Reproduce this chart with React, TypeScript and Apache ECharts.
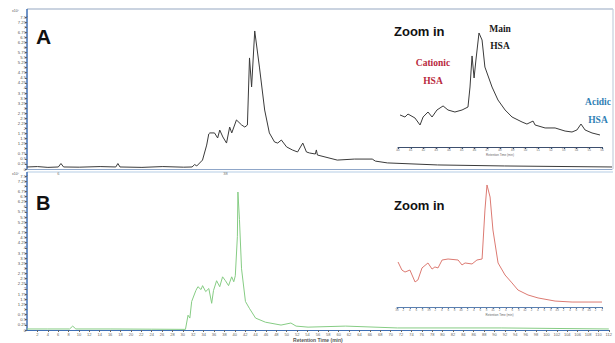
import React, { useEffect, useRef } from "react";
import * as echarts from "echarts";

// ---- Panel A (main chromatogram, x10^7) ----
const timeA = [0, 2, 4, 6, 6.5, 7, 10, 14, 17, 17.4, 17.8, 22, 26, 30, 31.6, 32.1, 32.5, 33.6, 34.4, 34.8, 35.0, 35.9, 36.5, 36.9, 37.5, 38.2, 38.8, 39.2, 40.1, 41.1, 41.7, 42.2, 42.6, 43.0, 43.6, 44.5, 45.5, 46.4, 47.4, 48.0, 48.7, 49.7, 50.8, 51.8, 52.8, 53.5, 54.1, 55.2, 55.4, 55.6, 59.4, 62.7, 66.1, 66.7, 69.0, 78.6, 91.4, 112];
const signalA = [0.1, 0.12, 0.08, 0.1, 0.27, 0.1, 0.09, 0.12, 0.1, 0.27, 0.1, 0.08, 0.12, 0.09, 0.1, 0.22, 0.15, 0.44, 1.18, 1.73, 1.78, 1.78, 1.53, 1.92, 1.58, 1.28, 2.07, 1.78, 2.42, 2.17, 2.07, 2.17, 5.48, 4.05, 6.81, 5.03, 2.91, 1.78, 1.33, 1.28, 1.43, 1.09, 0.94, 0.84, 1.28, 0.84, 0.79, 0.74, 0.94, 0.69, 0.44, 0.49, 0.49, 0.39, 0.3, 0.2, 0.15, 0.1];

// ---- Panel B (main chromatogram, x10^7) ----
const timeB = [0, 4, 8.2, 8.8, 9.4, 16, 24, 30.5, 31.0, 31.35, 31.7, 32.5, 32.9, 33.5, 33.8, 34.4, 35.0, 35.55, 35.9, 36.5, 37.1, 37.65, 38.2, 38.8, 39.4, 39.8, 40.1, 40.5, 40.6, 40.9, 41.3, 42.05, 42.8, 44.0, 45.9, 48.9, 50.8, 51.8, 54.1, 61.35, 71.3, 91.4, 112];
const signalB = [0.05, 0.05, 0.05, 0.19, 0.05, 0.05, 0.04, 0.03, 0.72, 0.58, 1.39, 1.92, 2.11, 1.97, 2.16, 1.87, 2.02, 1.3, 1.92, 2.4, 2.11, 2.59, 2.4, 2.16, 2.59, 2.35, 2.64, 4.56, 6.72, 5.38, 2.98, 1.39, 1.06, 0.58, 0.38, 0.24, 0.34, 0.19, 0.14, 0.19, 0.1, 0.1, 0.05];

// ---- Inset A (zoom, relative units) ----
const insetAX = [1.0, 3.4, 4.9, 8.3, 10.8, 12.3, 14.7, 16.7, 19.1, 22.1, 24.5, 27.9, 31.4, 34.3, 35.3, 36.3, 37.3, 38.2, 39.7, 41.2, 42.6, 46.1, 49.0, 52.5, 55.9, 60.8, 63.2, 66.2, 67.2, 72.1, 77.0, 81.9, 85.3, 87.7, 89.7, 91.7, 95.1, 99.0];
const insetAY = [26.9, 25.2, 27.7, 24.4, 18.5, 25.2, 29.4, 25.2, 31.1, 34.5, 31.1, 29.4, 31.1, 33.6, 50.4, 76.5, 58.0, 73.1, 95.8, 89.9, 67.2, 50.4, 39.5, 31.1, 25.2, 21.0, 19.3, 21.8, 18.5, 16.0, 16.0, 13.4, 12.6, 14.3, 19.3, 14.3, 11.8, 10.1];

// ---- Inset B (zoom, relative units) ----
const insetBX = [0.5, 2.4, 3.9, 6.3, 8.8, 10.2, 12.2, 15.1, 17.1, 18.5, 20.0, 22.0, 24.9, 29.8, 31.7, 33.2, 36.6, 39.0, 41.5, 42.9, 43.9, 45.4, 46.8, 49.3, 52.7, 56.1, 59.0, 63.9, 68.8, 77.1, 85.4, 93.2, 100];
const insetBY = [36.3, 29.8, 28.2, 29.8, 20.2, 21.8, 31.5, 35.5, 30.6, 32.3, 31.5, 37.9, 38.7, 37.9, 33.9, 35.5, 34.7, 37.9, 38.7, 78.2, 98.4, 88.7, 62.1, 35.5, 25.8, 19.4, 13.7, 9.7, 7.3, 4.8, 4.0, 4.0, 4.0];

// tick labels
const aXLabels = [6, 38];
const insetATicks = ["40", "41", "42", "43", "44", "45", "46", "47", "48", "49", "50", "51", "52", "53", "54", "55", "56"];
const insetBTicks = ["38", "2", "4", "6", "8", "39", "2", "4", "6", "8", "40", "2", "4", "6", "8", "41", "2", "4", "6", "8", "42", "2", "4", "6", "8", "43", "2", "4", "6", "8", "44", "2", "4"];

const pairs = (xs: number[], ys: number[]) => xs.map((x, i) => [x, ys[i]]);

const AXIS_BLUE = "#3f6fb5";

export default function App() {
  const ref = useRef<HTMLDivElement>(null);
  useEffect(() => {
    if (!ref.current) return;
    const chart = echarts.init(ref.current, null, { renderer: "svg" });
    const mainY = (gi: number) => ({
      type: "value",
      gridIndex: gi,
      min: 0,
      max: 7.5,
      interval: 0.25,
      axisLine: { show: true, lineStyle: { color: AXIS_BLUE, width: 1.5 } },
      axisTick: { show: true, length: 2, lineStyle: { color: "#666" } },
      axisLabel: { fontSize: 4.2, color: "#555", margin: 1, fontFamily: "Liberation Sans" },
      splitLine: { show: false },
    });
    const insetY = (gi: number) => ({
      type: "value",
      gridIndex: gi,
      min: 0,
      max: 100,
      show: false,
    });
    const option: any = {
      animation: false,
      backgroundColor: "#ffffff",
      grid: [
        { left: 27, right: 2, top: 17, height: 152 },
        { left: 27, right: 2, top: 176, height: 156 },
        { left: 398, width: 204, top: 28, height: 119 },
        { left: 397, width: 205, top: 183, height: 124 },
      ],
      xAxis: [
        {
          type: "value",
          gridIndex: 0,
          min: 0,
          max: 112,
          interval: 2,
          axisLine: { show: true, lineStyle: { color: "#8fa6c8", width: 1 } },
          axisTick: { show: false },
          axisLabel: {
            fontSize: 4,
            color: "#777",
            margin: 2,
            formatter: (v: number) => (aXLabels.includes(v) ? String(v) : ""),
          },
          splitLine: { show: false },
        },
        {
          type: "value",
          gridIndex: 1,
          min: 0,
          max: 112,
          interval: 2,
          name: "Retention Time (min)",
          nameLocation: "middle",
          nameGap: 7,
          nameTextStyle: { fontSize: 5, color: "#555", fontWeight: "bold", fontFamily: "Liberation Sans" },
          axisLine: { show: true, lineStyle: { color: AXIS_BLUE, width: 1.2 } },
          axisTick: { show: true, length: 2, lineStyle: { color: "#666" } },
          axisLabel: { fontSize: 4, color: "#666", margin: 2, showMinLabel: false, fontFamily: "Liberation Sans" },
          splitLine: { show: false },
        },
        {
          type: "value",
          gridIndex: 2,
          min: 0,
          max: 100,
          interval: 6.25,
          name: "Retention Time (min)",
          nameLocation: "middle",
          nameGap: 6,
          nameTextStyle: { fontSize: 3, color: "#666" },
          axisLine: { show: true, lineStyle: { color: "#3d4f6e", width: 1 } },
          axisTick: { show: true, length: 2, inside: false, lineStyle: { color: "#3d4f6e" } },
          axisLabel: {
            fontSize: 3,
            color: "#666",
            margin: 1.5,
            formatter: (v: number) => insetATicks[Math.round(v / 6.25)] ?? "",
          },
          splitLine: { show: false },
        },
        {
          type: "value",
          gridIndex: 3,
          min: 0,
          max: 100,
          interval: 3.125,
          name: "Retention Time (min)",
          nameLocation: "middle",
          nameGap: 6,
          nameTextStyle: { fontSize: 3, color: "#666" },
          axisLine: { show: true, lineStyle: { color: "#5a7fb0", width: 1 } },
          axisTick: { show: true, length: 2, lineStyle: { color: "#5a7fb0" } },
          axisLabel: {
            fontSize: 3,
            color: "#777",
            margin: 1.5,
            formatter: (v: number) => insetBTicks[Math.round(v / 3.125)] ?? "",
          },
          splitLine: { show: false },
        },
      ],
      yAxis: [mainY(0), mainY(1), insetY(2), insetY(3)],
      series: [
        {
          type: "line",
          xAxisIndex: 0,
          yAxisIndex: 0,
          data: pairs(timeA, signalA),
          showSymbol: false,
          lineStyle: { color: "#3a3a3a", width: 1 },
        },
        {
          type: "line",
          xAxisIndex: 1,
          yAxisIndex: 1,
          data: pairs(timeB, signalB),
          showSymbol: false,
          lineStyle: { color: "#86cc84", width: 1 },
        },
        {
          type: "line",
          xAxisIndex: 2,
          yAxisIndex: 2,
          data: pairs(insetAX, insetAY),
          showSymbol: false,
          lineStyle: { color: "#3a3a3a", width: 1 },
        },
        {
          type: "line",
          xAxisIndex: 3,
          yAxisIndex: 3,
          data: pairs(insetBX, insetBY),
          showSymbol: false,
          lineStyle: { color: "#dc7a72", width: 1 },
        },
      ],
      graphic: [
        { type: "line", shape: { x1: 27, y1: 9, x2: 613, y2: 9 }, style: { stroke: "#b9c5d6", lineWidth: 1.5 } },
        { type: "line", shape: { x1: 613, y1: 9, x2: 613, y2: 169 }, style: { stroke: "#c5cfdc", lineWidth: 1.2 } },
        { type: "line", shape: { x1: 27, y1: 9, x2: 27, y2: 17 }, style: { stroke: AXIS_BLUE, lineWidth: 1.5 } },
        { type: "line", shape: { x1: 27, y1: 172, x2: 613, y2: 172 }, style: { stroke: "#b6cde6", lineWidth: 1.2 } },
        { type: "line", shape: { x1: 27, y1: 172, x2: 27, y2: 176 }, style: { stroke: AXIS_BLUE, lineWidth: 1.5 } },
        { type: "text", left: 12, top: 9, style: { text: "x10\u2077", font: "3.5px Liberation Sans", fill: "#555" } },
        { type: "text", left: 12, top: 172, style: { text: "x10\u2077", font: "3.5px Liberation Sans", fill: "#555" } },
        { type: "text", left: 36, top: 26, style: { text: "A", font: "bold 21px Liberation Sans", fill: "#111" } },
        { type: "text", left: 36, top: 193, style: { text: "B", font: "bold 20px Liberation Sans", fill: "#111" } },
        { type: "text", left: 394, top: 25, style: { text: "Zoom in", font: "bold 13px Liberation Sans", fill: "#111" } },
        { type: "text", left: 394, top: 199, style: { text: "Zoom in", font: "bold 13px Liberation Sans", fill: "#111" } },
        { type: "text", x: 500, y: 24, style: { text: "Main", font: "bold 9.5px Liberation Serif", fill: "#1a1a1a", textAlign: "center" } },
        { type: "text", x: 500, y: 41, style: { text: "HSA", font: "bold 9.5px Liberation Serif", fill: "#1a1a1a", textAlign: "center" } },
        { type: "text", x: 433, y: 58, style: { text: "Cationic", font: "bold 9.5px Liberation Serif", fill: "#b8283c", textAlign: "center" } },
        { type: "text", x: 433, y: 76, style: { text: "HSA", font: "bold 9.5px Liberation Serif", fill: "#b8283c", textAlign: "center" } },
        { type: "text", x: 598, y: 97, style: { text: "Acidic", font: "bold 9.5px Liberation Serif", fill: "#2f80b4", textAlign: "center" } },
        { type: "text", x: 598, y: 115, style: { text: "HSA", font: "bold 9.5px Liberation Serif", fill: "#2f80b4", textAlign: "center" } },
      ],
    };
    chart.setOption(option);
    return () => chart.dispose();
  }, []);
  return <div ref={ref} style={{ width: 615, height: 343, position: "fixed", left: 0, top: 0 }} />;
}
